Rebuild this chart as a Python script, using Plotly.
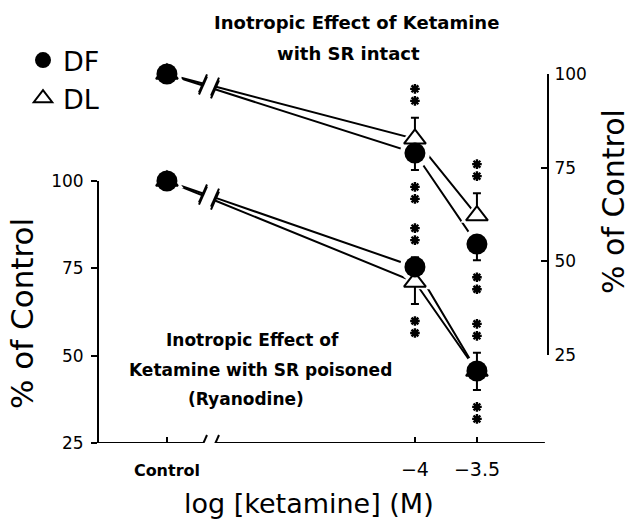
import plotly.graph_objects as go

# ---------------- data ----------------
x_vals = [-6.0, -4.0, -3.5]
x_ticktext = ['<span style="font-size:16px"><b>Control</b></span>', "\u22124", "\u22123.5"]
y_ticks = [25, 50, 75, 100]

# SR intact (right axis)
intact_df = [100, 78.9, 54.6]
intact_dl = [100, 82.7, 62.2]
intact_df_err_plus = [None, None, None]
intact_df_err_minus = [None, 4.5, 4.3]
intact_dl_err_plus = [None, 5.6, 6.0]
intact_dl_err_minus = [None, None, None]
intact_df_sig = ["", "**", "**"]
intact_dl_sig = ["", "**", "**"]

# SR poisoned with ryanodine (left axis)
poisoned_df = [100, 75.4, 45.6]
poisoned_dl = [100, 71.1, 45.6]
poisoned_df_err_plus = [None, 2.8, None]
poisoned_df_err_minus = [None, None, 5.4]
poisoned_dl_err_plus = [None, None, 5.2]
poisoned_dl_err_minus = [None, 6.3, None]
poisoned_df_sig = ["", "**", "**"]
poisoned_dl_sig = ["", "**", "**"]

# ---------------- layout geometry ----------------
W, H = 631, 522
PLOT_L, PLOT_R, PLOT_T, PLOT_B = 99, 547, 50, 443
ML, MR = PLOT_L, W - PLOT_R
MT, MB = PLOT_T, H - PLOT_B
PW, PH = W - ML - MR, H - MT - MB
X_RANGE = [-6.548, -2.935]
Y_DOMAIN = [0.0, (443 - 181) / PH]
Y2_DOMAIN = [(443 - 355) / PH, (443 - 74) / PH]
PPU_Y = (Y_DOMAIN[1] - Y_DOMAIN[0]) * PH / 75.0
PPU_Y2 = (Y2_DOMAIN[1] - Y2_DOMAIN[0]) * PH / 75.0
PPX = PW / (X_RANGE[1] - X_RANGE[0])
X_BREAK = -5.661
BREAK_HALF = 6 / PPX
XB1, XB2 = X_BREAK - BREAK_HALF, X_BREAK + BREAK_HALF
FONT = "DejaVu Sans"


def px(xp, yp):
    return (xp - PLOT_L) / PW, (PLOT_B - yp) / PH


def broken_line(vals):
    x0, x1, x2 = x_vals
    y0, y1, y2 = vals
    t1 = (XB1 - x0) / (x1 - x0)
    t2 = (XB2 - x0) / (x1 - x0)
    yb1 = y0 + t1 * (y1 - y0)
    yb2 = y0 + t2 * (y1 - y0)
    return [x0, XB1, None, XB2, x1, x2], [y0, yb1, None, yb2, y1, y2], (yb1, yb2)


def star_points(vals, plus, minus, sig, ppu):
    xs, ys = [], []
    for i, v in enumerate(vals):
        s = sig[i]
        if not s:
            continue
        if plus[i] is not None:
            d, e = 1, plus[i]
        elif minus[i] is not None:
            d, e = -1, minus[i]
        else:
            d, e = 1, 0
        for k in range(len(s)):
            off = 17 + 12 * k
            xs.append(x_vals[i])
            ys.append(v + d * (e + off / ppu))
    return xs, ys


fig = go.Figure()
shapes = []

series = [
    ("intact", "DL", intact_dl, intact_dl_err_plus, intact_dl_err_minus, intact_dl_sig, "y2", PPU_Y2),
    ("intact", "DF", intact_df, intact_df_err_plus, intact_df_err_minus, intact_df_sig, "y2", PPU_Y2),
    ("poisoned", "DL", poisoned_dl, poisoned_dl_err_plus, poisoned_dl_err_minus, poisoned_dl_sig, "y", PPU_Y),
    ("poisoned", "DF", poisoned_df, poisoned_df_err_plus, poisoned_df_err_minus, poisoned_df_sig, "y", PPU_Y),
]

# connecting lines (with axis-break gap)
for panel, name, vals, ep, em, sig, yax, ppu in series:
    xs, ys, (yb1, yb2) = broken_line(vals)
    fig.add_trace(go.Scatter(x=xs, y=ys, mode="lines", yaxis=yax,
                             line=dict(color="black", width=2),
                             showlegend=False, hoverinfo="skip", cliponaxis=False))
    for xa, ya in ((XB1, yb1), (XB2, yb2)):
        shapes.append(dict(type="line", xref="x", yref=yax,
                           xsizemode="pixel", ysizemode="pixel",
                           xanchor=xa, yanchor=ya, x0=-4, x1=4, y0=-9, y1=9,
                           line=dict(color="black", width=2)))

# white halos so lines stop short of markers
for panel, name, vals, ep, em, sig, yax, ppu in series:
    sym = "triangle-up" if name == "DL" else "circle"
    size = 29 if name == "DL" else 30
    fig.add_trace(go.Scatter(x=x_vals, y=vals, mode="markers", yaxis=yax,
                             marker=dict(symbol=sym, size=size, color="white",
                                         line=dict(width=0)),
                             showlegend=False, hoverinfo="skip", cliponaxis=False))

# markers with error bars (DL first, DF on top)
for panel, name, vals, ep, em, sig, yax, ppu in series:
    if name != "DL":
        continue
    fig.add_trace(go.Scatter(
        x=x_vals, y=vals, mode="markers", yaxis=yax, name="DL",
        marker=dict(symbol="triangle-up", size=19, color="white",
                    line=dict(color="black", width=2)),
        error_y=dict(type="data", symmetric=False, array=ep, arrayminus=em,
                     color="black", thickness=2, width=4),
        showlegend=(panel == "poisoned"), legendrank=2, cliponaxis=False))
for panel, name, vals, ep, em, sig, yax, ppu in series:
    if name != "DF":
        continue
    fig.add_trace(go.Scatter(
        x=x_vals, y=vals, mode="markers", yaxis=yax, name="DF",
        marker=dict(symbol="circle", size=21, color="black",
                    line=dict(color="black", width=0)),
        error_y=dict(type="data", symmetric=False, array=ep, arrayminus=em,
                     color="black", thickness=2, width=4),
        showlegend=(panel == "poisoned"), legendrank=1, cliponaxis=False))

# significance asterisks
for panel, name, vals, ep, em, sig, yax, ppu in series:
    sx, sy = star_points(vals, ep, em, sig, ppu)
    fig.add_trace(go.Scatter(x=sx, y=sy, mode="markers", yaxis=yax,
                             marker=dict(symbol="asterisk-open", size=8, color="black",
                                         line=dict(color="black", width=2.4)),
                             showlegend=False, hoverinfo="skip", cliponaxis=False))

# x axis line with break
shapes.append(dict(type="line", xref="x", yref="y", x0=X_RANGE[0], x1=XB1, y0=25, y1=25,
                   line=dict(color="black", width=2)))
shapes.append(dict(type="line", xref="x", yref="y", x0=XB2, x1=-2.952, y0=25, y1=25,
                   line=dict(color="black", width=2)))
for xa in (XB1, XB2):
    shapes.append(dict(type="line", xref="x", yref="y",
                       xsizemode="pixel", ysizemode="pixel",
                       xanchor=xa, yanchor=25, x0=-4, x1=4, y0=-10, y1=8,
                       line=dict(color="black", width=2)))

annotations = []


def ann(text, xp, yp, size, angle=0):
    xx, yy = px(xp, yp)
    annotations.append(dict(text=text, x=xx, y=yy, xref="paper", yref="paper",
                            xanchor="center", yanchor="middle", showarrow=False,
                            textangle=angle, font=dict(family=FONT, size=size, color="black")))


ann("<b>Inotropic Effect of Ketamine</b>", 356, 22, 18)
ann("<b>with SR intact</b>", 348, 54, 18)
ann("<b>Inotropic Effect of</b>", 252, 340, 17)
ann("<b>Ketamine with SR poisoned</b>", 260, 370, 17)
ann("<b>(Ryanodine)</b>", 246, 399, 17)
ann("% of Control", 22, 314, 31, -90)
ann("% of Control", 613, 202, 30, -90)
ann("log [ketamine] (M)", 309, 503, 27)

lx, ly = px(23, 36)

fig.update_layout(
    template="none",
    width=W, height=H,
    margin=dict(l=ML, r=MR, t=MT, b=MB, autoexpand=False),
    paper_bgcolor="white", plot_bgcolor="rgba(0,0,0,0)",
    font=dict(family=FONT, color="black"),
    showlegend=True,
    legend=dict(x=lx, y=ly, xanchor="left", yanchor="top", bgcolor="rgba(0,0,0,0)",
                font=dict(family=FONT, size=27), itemsizing="trace",
                tracegroupgap=0, traceorder="normal"),
    xaxis=dict(range=X_RANGE, domain=[0, 1], anchor="y", showgrid=False, zeroline=False,
               showline=False, tickmode="array", tickvals=x_vals, ticktext=x_ticktext,
               ticks="inside", ticklen=6, tickwidth=2, tickcolor="black",
               ticklabelstandoff=13,
               tickfont=dict(family=FONT, size=19), automargin=False),
    yaxis=dict(range=[25, 100], domain=Y_DOMAIN, anchor="x", showgrid=False, zeroline=False,
               showline=True, linecolor="black", linewidth=2,
               tickmode="array", tickvals=y_ticks,
               ticks="outside", ticklen=6, tickwidth=2, tickcolor="black",
               ticklabelstandoff=4,
               tickfont=dict(family=FONT, size=17), automargin=False),
    yaxis2=dict(range=[25, 100], domain=Y2_DOMAIN, anchor="x", side="right",
                showgrid=False, zeroline=False,
                showline=True, linecolor="black", linewidth=2,
                tickmode="array", tickvals=y_ticks,
                ticks="inside", ticklen=6, tickwidth=2, tickcolor="black",
                ticklabelstandoff=2,
                tickfont=dict(family=FONT, size=17), automargin=False),
    shapes=shapes,
    annotations=annotations,
)

# remove the page's default 8px body margin so the figure fills the window exactly
fig.write_html("out.html", config={"displayModeBar": False},
               post_script="document.body.style.margin='0px';")
